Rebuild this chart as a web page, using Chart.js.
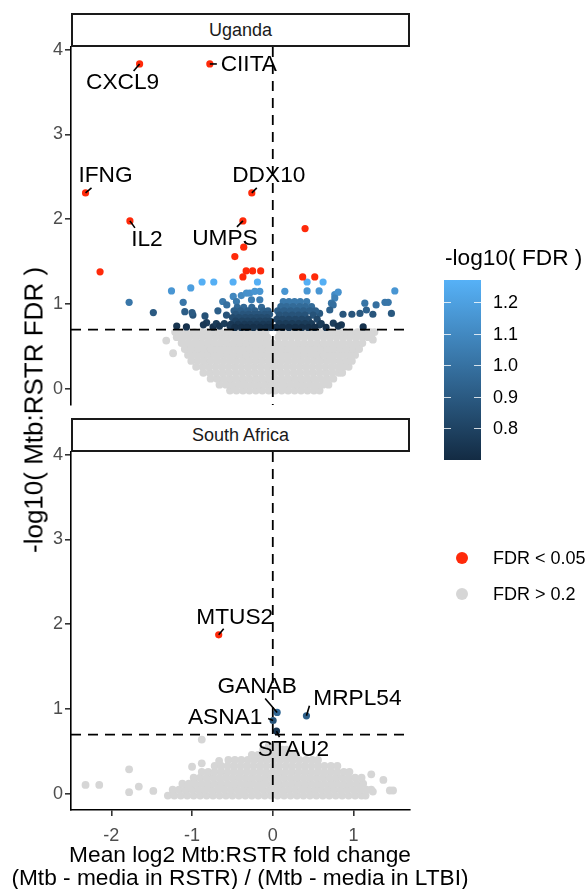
<!DOCTYPE html>
<html lang="en">
<head>
<meta charset="UTF-8">
<title>Mtb:RSTR volcano</title>
<script src="https://cdn.jsdelivr.net/npm/chart.js"></script>
<style>
  body { margin: 0; background: #fff; font-family: "Liberation Sans", Arial, sans-serif; }
  #wrap { position: relative; width: 585px; height: 889px; overflow: hidden; }
  canvas { position: absolute; left: 0; }
  .strip { position: absolute; left: 71px; width: 339px; height: 34px; box-sizing: border-box;
           border: 2px solid #1a1a1a; background: #fff; font-size: 18px; color: #1a1a1a;
           text-align: center; line-height: 30px; }
  #ytitle { position: absolute; left: 34px; top: 410px; transform: translate(-50%, -50%) rotate(-90deg);
            white-space: nowrap; font-size: 26px; color: #000; }
  #xtitle { position: absolute; left: 240px; top: 843px; transform: translateX(-50%);
            white-space: nowrap; font-size: 22.7px; line-height: 23px; color: #000; text-align: center; }
  .lgtitle { position: absolute; left: 445px; top: 244px; font-size: 22.7px; color: #000; white-space: nowrap; }
  #bar { position: absolute; left: 444px; top: 280px; width: 37px; height: 180px;
         background: linear-gradient(to top, #132B43, #56B1F7); }
  .btick { position: absolute; height: 1px; width: 7px; background: rgba(255,255,255,0.8); }
  .lglab { position: absolute; left: 493px; font-size: 18px; color: #000; white-space: nowrap;
           transform: translateY(-50%); }
  .key { position: absolute; width: 12px; height: 12px; border-radius: 50%; transform: translate(-50%, -50%); }
</style>
</head>
<body>
<div id="wrap">
  <canvas id="uganda" width="585" height="420" style="top:0"></canvas>
  <canvas id="safrica" width="585" height="470" style="top:419px"></canvas>
  <div class="strip" style="top:13px">Uganda</div>
  <div class="strip" style="top:418px">South Africa</div>
  <div id="ytitle">-log10( Mtb:RSTR FDR )</div>
  <div id="xtitle">Mean log2 Mtb:RSTR fold change<br>(Mtb - media in RSTR) / (Mtb - media in LTBI)</div>
  <div class="lgtitle">-log10( FDR )</div>
  <div id="bar"></div>
  <div id="legend"></div>
</div>

<script>
  // axis setup
  const xTicks = [-2, -1, 0, 1];
  const yTicks = [0, 1, 2, 3, 4];
  const fdrLine = 0.699;          // -log10(0.2)
  const colourMin = 0.699, colourMax = 1.27;
  const colourTicks = [0.8, 0.9, 1.0, 1.1, 1.2];

  // Uganda: significant genes, FDR < 0.05
  const ugandaRed = [
    [-1.65, 3.83], [-0.78, 3.83], [-2.32, 2.31], [-0.26, 2.31], [-1.77, 1.98], [-0.37, 1.98],
    [0.40, 1.89], [-0.36, 1.67], [-0.47, 1.56], [-2.14, 1.38], [-0.33, 1.39], [-0.25, 1.39],
    [-0.15, 1.39], [-0.37, 1.32], [0.37, 1.32], [0.52, 1.32]
  ];
  // Uganda: 0.05 < FDR < 0.2
  const ugandaBlue = [
    [-1.78, 1.02], [-1.48, 0.90], [-1.255, 1.155], [-1.19, 0.74], [-1.11, 1.02], [-1.09, 0.91],
    [-1.07, 0.73], [-1.016, 1.19], [-0.99, 0.87], [-1.0, 0.90], [-0.876, 1.26], [-0.84, 0.86],
    [-0.82, 0.78], [-0.86, 0.755], [-0.74, 0.73], [-0.731, 1.26], [-0.70, 0.77], [-0.68, 0.92],
    [-0.66, 0.74], [-0.62, 1.03], [-0.60, 0.77], [-0.57, 0.99], [-0.574, 0.87], [-0.53, 0.74],
    [-0.492, 1.26], [-0.49, 1.09], [-0.45, 1.03], [-0.39, 1.10], [-0.326, 1.128], [-0.285, 1.13],
    [-0.223, 1.15], [-0.19, 1.26], [-0.161, 1.15], [-0.264, 1.05], [-0.161, 1.05],
    [-0.44, 0.96], [-0.36, 0.96], [-0.26, 0.96], [-0.14, 0.96],
    [-0.48, 0.92], [-0.40, 0.92], [-0.31, 0.92], [-0.22, 0.92], [-0.12, 0.92], [-0.06, 0.92],
    [-0.46, 0.88], [-0.37, 0.88], [-0.30, 0.88], [-0.24, 0.88], [-0.18, 0.88], [-0.10, 0.88], [-0.04, 0.88],
    [-0.50, 0.84], [-0.42, 0.84], [-0.34, 0.84], [-0.27, 0.84], [-0.20, 0.84], [-0.14, 0.84], [-0.07, 0.84],
    [-0.46, 0.80], [-0.38, 0.80], [-0.31, 0.80], [-0.24, 0.80], [-0.16, 0.80], [-0.09, 0.80], [-0.03, 0.80],
    [-0.52, 0.76], [-0.43, 0.76], [-0.35, 0.76], [-0.28, 0.76], [-0.20, 0.76], [-0.12, 0.76], [-0.05, 0.76],
    [-0.47, 0.725], [-0.39, 0.725], [-0.32, 0.725], [-0.24, 0.725], [-0.16, 0.725], [-0.08, 0.725], [-0.02, 0.725],
    [0.149, 1.15], [0.425, 1.26], [0.623, 1.26], [0.425, 1.155], [0.574, 1.155], [0.768, 1.11],
    [0.81, 1.14], [0.768, 1.07], [0.727, 1.01], [0.748, 0.99], [0.706, 0.93], [0.58, 0.89],
    [0.87, 0.88], [0.98, 0.88], [1.08, 0.89], [1.14, 1.01], [1.28, 0.99], [1.39, 1.02], [1.43, 1.02],
    [1.24, 0.88], [1.47, 0.89], [1.16, 0.93], [1.512, 1.155], [0.85, 0.755], [1.12, 0.73],
    [0.75, 0.775], [0.81, 0.74], [0.58, 0.755],
    [0.13, 1.03], [0.20, 1.03], [0.27, 1.03], [0.34, 1.03], [0.42, 1.03],
    [0.10, 0.97], [0.17, 0.97], [0.25, 0.97], [0.33, 0.97], [0.40, 0.97], [0.48, 0.97],
    [0.06, 0.92], [0.14, 0.92], [0.22, 0.92], [0.30, 0.92], [0.38, 0.92], [0.46, 0.92], [0.53, 0.92],
    [0.08, 0.87], [0.16, 0.87], [0.24, 0.87], [0.32, 0.87], [0.40, 0.87], [0.50, 0.87],
    [0.05, 0.82], [0.12, 0.82], [0.20, 0.82], [0.28, 0.82], [0.36, 0.82], [0.44, 0.82], [0.55, 0.82],
    [0.08, 0.77], [0.16, 0.77], [0.24, 0.77], [0.32, 0.77], [0.40, 0.77], [0.48, 0.77], [0.60, 0.77],
    [0.04, 0.725], [0.12, 0.725], [0.20, 0.725], [0.28, 0.725], [0.36, 0.725], [0.44, 0.725], [0.52, 0.725], [0.66, 0.725]
  ];
  // Uganda: FDR > 0.2, rows of [y, x values]
  const ugandaGreyRows = [
    [-0.02, [-0.53,-0.45,-0.37,-0.29,-0.21,-0.13,-0.05,0.03,0.11,0.19,0.27,0.35,0.43,0.51,0.58]],
    [0.05, [-0.66,-0.58,-0.50,-0.42,-0.34,-0.26,-0.18,-0.10,-0.02,0.06,0.14,0.22,0.30,0.38,0.46,0.54,0.62,0.69]],
    [0.12, [-0.77,-0.69,-0.61,-0.53,-0.45,-0.37,-0.29,-0.21,-0.13,-0.05,0.03,0.11,0.19,0.27,0.35,0.43,0.51,0.59,0.67,0.75]],
    [0.19, [-0.86,-0.78,-0.70,-0.62,-0.54,-0.46,-0.38,-0.30,-0.22,-0.14,-0.06,0.02,0.10,0.18,0.26,0.34,0.42,0.50,0.58,0.66,0.74,0.82,0.86]],
    [0.26, [-0.95,-0.87,-0.79,-0.71,-0.63,-0.55,-0.47,-0.39,-0.31,-0.23,-0.15,-0.07,0.01,0.09,0.17,0.25,0.33,0.41,0.49,0.57,0.65,0.73,0.81,0.88,0.94]],
    [0.33, [-1.01,-0.93,-0.85,-0.77,-0.69,-0.61,-0.53,-0.45,-0.37,-0.29,-0.21,-0.13,-0.05,0.03,0.11,0.19,0.27,0.35,0.43,0.51,0.59,0.67,0.75,0.83,0.91,0.98]],
    [0.40, [-1.05,-0.97,-0.89,-0.81,-0.73,-0.65,-0.57,-0.49,-0.41,-0.33,-0.25,-0.17,-0.09,-0.01,0.07,0.15,0.23,0.31,0.39,0.47,0.55,0.63,0.71,0.79,0.87,0.95,1.02]],
    [0.47, [-1.09,-1.01,-0.93,-0.85,-0.77,-0.69,-0.61,-0.53,-0.45,-0.37,-0.29,-0.21,-0.13,-0.05,0.03,0.11,0.19,0.27,0.35,0.43,0.51,0.59,0.67,0.75,0.83,0.91,0.99,1.07]],
    [0.54, [-1.13,-1.05,-0.97,-0.89,-0.81,-0.73,-0.65,-0.57,-0.49,-0.41,-0.33,-0.25,-0.17,-0.09,-0.01,0.07,0.15,0.23,0.31,0.39,0.47,0.55,0.63,0.71,0.79,0.87,0.95,1.03,1.11]],
    [0.61, [-1.19,-1.11,-1.03,-0.95,-0.87,-0.79,-0.71,-0.63,-0.55,-0.47,-0.39,-0.31,-0.23,-0.15,-0.07,0.07,0.15,0.23,0.31,0.39,0.47,0.55,0.63,0.71,0.79,0.87,0.95,1.03,1.11,1.18]],
    [0.67, [-1.21,-1.13,-1.05,-0.97,-0.89,-0.81,-0.73,-0.65,-0.57,-0.49,-0.41,-0.33,-0.25,-0.17,-0.09,0.09,0.17,0.25,0.33,0.41,0.49,0.57,0.65,0.73,0.81,0.89,0.97,1.05,1.13,1.21,1.26]]
  ];
  const ugandaGreyExtra = [[-1.32, 0.57], [-1.235, 0.42], [1.24, 0.58], [1.22, 0.64]];

  // South Africa
  const safricaRed = [[-0.67, 1.875]];
  const safricaBlue = [[0.054, 0.96], [0.004, 0.865], [0.417, 0.92], [0.046, 0.74]];
  const safricaGreyRows = [
    [-0.02, [-1.30,-1.22,-1.14,-1.06,-0.98,-0.90,-0.82,-0.74,-0.66,-0.58,-0.50,-0.42,-0.34,-0.26,-0.18,-0.10,-0.02,0.06,0.14,0.22,0.30,0.38,0.46,0.54,0.62,0.70,0.78,0.86,0.94,1.02,1.10,1.15]],
    [0.05, [-1.24,-1.16,-1.08,-1.00,-0.92,-0.84,-0.76,-0.68,-0.60,-0.52,-0.44,-0.36,-0.28,-0.20,-0.12,-0.04,0.04,0.12,0.20,0.28,0.36,0.44,0.52,0.60,0.68,0.76,0.84,0.92,1.00,1.08,1.16,1.22]],
    [0.12, [-1.12,-1.04,-0.96,-0.88,-0.80,-0.72,-0.64,-0.56,-0.48,-0.40,-0.32,-0.24,-0.16,-0.08,0.00,0.08,0.16,0.24,0.32,0.40,0.48,0.56,0.64,0.72,0.80,0.88,0.96,1.04,1.12]],
    [0.19, [-0.98,-0.90,-0.82,-0.74,-0.66,-0.58,-0.50,-0.42,-0.34,-0.26,-0.18,-0.10,-0.02,0.06,0.14,0.22,0.30,0.38,0.46,0.54,0.62,0.70,0.78,0.86,0.94,1.02,1.10]],
    [0.26, [-0.88,-0.80,-0.72,-0.64,-0.56,-0.48,-0.40,-0.32,-0.24,-0.16,-0.08,0.00,0.08,0.16,0.24,0.32,0.40,0.48,0.56,0.64,0.72,0.80,0.88,0.95]],
    [0.33, [-0.72,-0.64,-0.56,-0.48,-0.40,-0.32,-0.24,-0.16,-0.08,0.00,0.08,0.16,0.24,0.32,0.40,0.48,0.56,0.64,0.72,0.80]],
    [0.40, [-0.55,-0.47,-0.39,-0.31,-0.23,-0.15,-0.07,0.01,0.09,0.17,0.25,0.33,0.41,0.49,0.56]],
    [0.46, [-0.26,-0.18,-0.10,-0.02,0.06,0.14,0.22,0.29]],
    [0.52, [-0.12,-0.04,0.04,0.12,0.17]],
    [0.57, [-0.05,0.05]]
  ];
  const safricaGreyExtra = [
    [-2.32, 0.106], [-2.15, 0.106], [-1.78, 0.29], [-1.78, 0.02], [-1.66, 0.086], [-1.48, 0.035],
    [-1.0, 0.32], [-0.88, 0.36], [-0.88, 0.64], [-0.665, 0.39], [1.22, 0.23], [1.37, 0.165],
    [1.24, 0.027], [1.45, 0.04], [1.49, 0.04]
  ];

  // labelled genes
  const ugandaGenes = [['CXCL9', -1.65, 3.83], ['CIITA', -0.78, 3.83], ['IFNG', -2.32, 2.31],
                       ['DDX10', -0.26, 2.31], ['IL2', -1.77, 1.98], ['UMPS', -0.37, 1.98]];
  const safricaGenes = [['MTUS2', -0.67, 1.875], ['GANAB', 0.054, 0.96], ['ASNA1', 0.004, 0.865],
                        ['MRPL54', 0.417, 0.92], ['STAU2', 0.046, 0.74]];

  // label placement (pixels from the point): text centre and leader end
  const labelOffsets = {
    CXCL9: { tx: -17, ty: 19, lx: -6, ly: 7 },
    CIITA: { tx: 39, ty: 1, lx: 7, ly: 0 },
    IFNG: { tx: 20, ty: -17, lx: 6, ly: -5 },
    DDX10: { tx: 17, ty: -17, lx: 5, ly: -5 },
    IL2: { tx: 17, ty: 19, lx: 5, ly: 7 },
    UMPS: { tx: -18, ty: 18, lx: -6, ly: 6 },
    MTUS2: { tx: 16, ty: -17, lx: 5, ly: -6 },
    GANAB: { tx: -20, ty: -26, lx: -12, ly: -14 },
    ASNA1: { tx: -48, ty: -3, lx: -5, ly: -2 },
    MRPL54: { tx: 51, ty: -17, lx: 3, ly: -10 },
    STAU2: { tx: 17, ty: 19, lx: 3, ly: 6 }
  };

  const FONT = '"Liberation Sans", Arial, sans-serif';
  const RED = '#FF2A0A', GREY = '#D6D6D6';

  function fdrColour(v) {
    const t = Math.max(0, Math.min(1, (v - colourMin) / (colourMax - colourMin)));
    const lo = [19, 43, 67], hi = [86, 177, 247];
    return 'rgb(' + lo.map((c, i) => Math.round(c + (hi[i] - c) * t)).join(',') + ')';
  }

  const toPts = arr => arr.map(([x, y]) => ({ x, y }));
  const rowsToPts = rows => rows.flatMap(([y, xs]) => xs.map(x => ({ x, y })));

  const overlay = {
    id: 'overlay',
    afterDatasetsDraw(chart, args, opts) {
      const { ctx, chartArea: a, scales: { x, y } } = chart;
      ctx.save();
      ctx.beginPath();
      ctx.rect(a.left, a.top, a.right - a.left, a.bottom - a.top);
      ctx.clip();
      ctx.setLineDash([10, 7]);
      ctx.lineWidth = 1.8;
      ctx.strokeStyle = '#000';
      const hy = y.getPixelForValue(fdrLine);
      ctx.beginPath(); ctx.moveTo(a.left, hy); ctx.lineTo(a.right, hy); ctx.stroke();
      const vx = x.getPixelForValue(0);
      ctx.beginPath(); ctx.moveTo(vx, a.top); ctx.lineTo(vx, a.bottom); ctx.stroke();
      ctx.restore();

      ctx.save();
      ctx.font = '22.7px ' + FONT;
      ctx.textAlign = 'center';
      ctx.textBaseline = 'middle';
      ctx.fillStyle = '#000';
      ctx.strokeStyle = '#000';
      ctx.lineWidth = 1.6;
      for (const [name, gx, gy] of opts.genes) {
        const o = labelOffsets[name];
        const px = x.getPixelForValue(gx), py = y.getPixelForValue(gy);
        ctx.beginPath(); ctx.moveTo(px, py); ctx.lineTo(px + o.lx, py + o.ly); ctx.stroke();
        ctx.fillText(name, px + o.tx, py + o.ty);
      }
      ctx.restore();
    }
  };

  function makePanel(id, red, blue, grey, genes, bottom) {
    return new Chart(document.getElementById(id), {
      type: 'scatter',
      data: {
        datasets: [
          { data: toPts(red), backgroundColor: RED },
          { data: toPts(blue), backgroundColor: c => fdrColour(c.raw ? c.raw.y : 1) },
          { data: grey, backgroundColor: GREY, pointRadius: 3.9 }
        ]
      },
      options: {
        responsive: false,
        animation: false,
        events: [],
        elements: { point: { radius: 3.6, borderWidth: 0, hoverRadius: 3.6 } },
        layout: { padding: bottom ? { top: 33, right: 175, left: 0, bottom: 0 }
                                  : { top: 47, right: 175, left: 0, bottom: 15 } },
        scales: {
          x: {
            type: 'linear', min: -2.5, max: 1.7, display: bottom,
            afterBuildTicks: s => { s.ticks = xTicks.map(v => ({ value: v })); },
            afterFit: s => { if (bottom) s.height = 79; },
            border: { display: true, color: '#000', width: 1.6 },
            grid: { drawOnChartArea: false, drawTicks: true, tickLength: 6, color: '#333', lineWidth: 1.6 },
            ticks: { color: '#4D4D4D', font: { family: FONT, size: 18 }, padding: 9, maxRotation: 0, autoSkip: false }
          },
          y: {
            type: 'linear', min: -0.19, max: 4.03,
            afterBuildTicks: s => { s.ticks = yTicks.map(v => ({ value: v })); },
            afterFit: s => { s.width = 71; },
            border: { display: true, color: '#000', width: 1.6 },
            grid: { drawOnChartArea: false, drawTicks: true, tickLength: 6, color: '#333', lineWidth: 1.6 },
            ticks: { color: '#4D4D4D', font: { family: FONT, size: 18 }, padding: 2 }
          }
        },
        plugins: { legend: { display: false }, tooltip: { enabled: false }, overlay: { genes } }
      },
      plugins: [overlay]
    });
  }

  makePanel('uganda', ugandaRed, ugandaBlue,
            rowsToPts(ugandaGreyRows).concat(toPts(ugandaGreyExtra)), ugandaGenes, false);
  makePanel('safrica', safricaRed, safricaBlue,
            rowsToPts(safricaGreyRows).concat(toPts(safricaGreyExtra)), safricaGenes, true);

  // legend: colour bar ticks and keys
  const legend = document.getElementById('legend');
  const barTop = 280, barH = 180;
  colourTicks.forEach(v => {
    const yy = barTop + barH - (v - colourMin) / (colourMax - colourMin) * barH;
    legend.insertAdjacentHTML('beforeend',
      `<div class="btick" style="left:444px;top:${yy}px"></div>` +
      `<div class="btick" style="left:474px;top:${yy}px"></div>` +
      `<div class="lglab" style="top:${yy}px">${v.toFixed(1)}</div>`);
  });
  [['FDR < 0.05', RED, 558], ['FDR > 0.2', GREY, 594]].forEach(([txt, col, yy]) => {
    legend.insertAdjacentHTML('beforeend',
      `<div class="key" style="left:462px;top:${yy}px;background:${col}"></div>` +
      `<div class="lglab" style="top:${yy}px">${txt.replace('<', '&lt;').replace('>', '&gt;')}</div>`);
  });
</script>
</body>
</html>
